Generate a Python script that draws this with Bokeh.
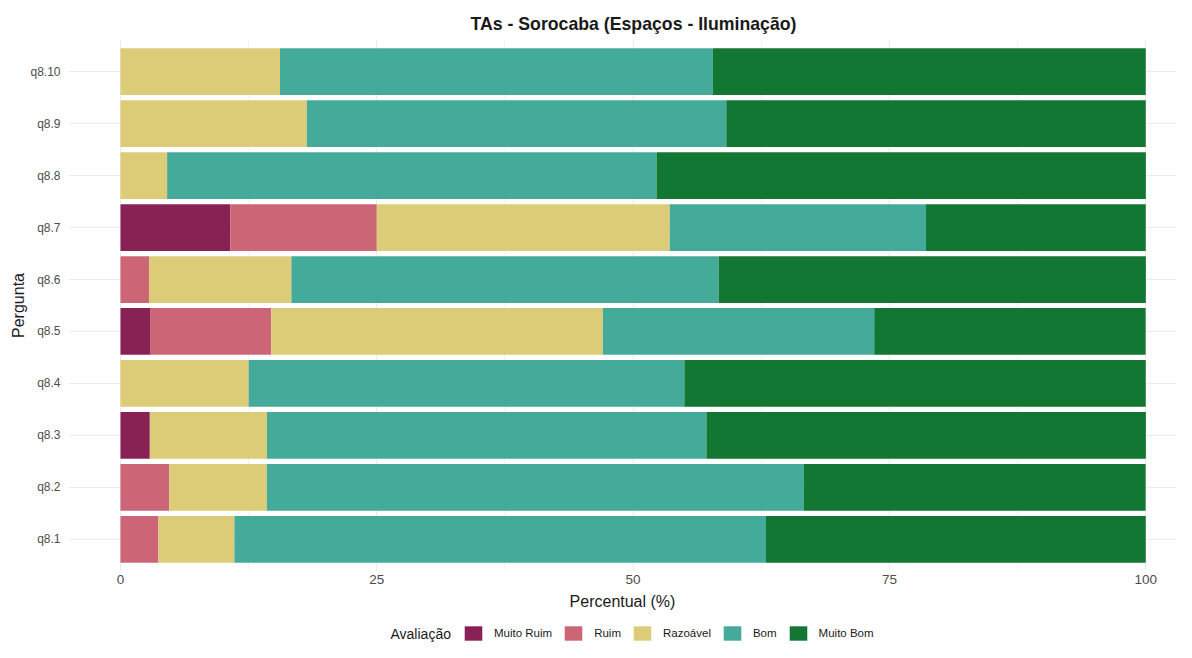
from bokeh.plotting import figure
from bokeh.layouts import column
from bokeh.models import (FactorRange, Range1d, FixedTicker, Legend, LegendItem,
                          ColumnDataSource, Label)
from bokeh.embed import file_html
from bokeh.resources import INLINE

# ---- data ----
perguntas = ["q8.1", "q8.2", "q8.3", "q8.4", "q8.5", "q8.6", "q8.7", "q8.8", "q8.9", "q8.10"]
muito_ruim = [0.0, 0.0, 2.86, 0.0, 2.94, 0.0, 10.71, 0.0, 0.0, 0.0]
ruim       = [3.70, 4.76, 0.0, 0.0, 11.76, 2.78, 14.29, 0.0, 0.0, 0.0]
razoavel   = [7.41, 9.52, 11.43, 12.5, 32.35, 13.89, 28.57, 4.55, 18.18, 15.56]
bom        = [51.85, 52.38, 42.86, 42.5, 26.47, 41.67, 25.0, 47.73, 40.91, 42.22]
muito_bom  = [37.04, 33.33, 42.86, 45.0, 26.47, 41.67, 21.43, 47.73, 40.91, 42.22]
niveis = ["Muito Ruim", "Ruim", "Razoável", "Bom", "Muito Bom"]
cores = ["#882255", "#CC6677", "#DDCC77", "#44AA99", "#117733"]
x_ticks = [0, 25, 50, 75, 100]
x_minor = [12.5, 37.5, 62.5, 87.5]
titulo = "TAs - Sorocaba (Espaços - Iluminação)"

FONT = "Liberation Sans"
FRAME_LEFT = 68


def strip(h):
    f = figure(width=1176, height=h, x_range=Range1d(0, 1176), y_range=Range1d(0, h),
               output_backend="svg", toolbar_location=None, title=None,
               min_border_left=0, min_border_right=0, min_border_top=0, min_border_bottom=0)
    f.axis.visible = False
    f.grid.visible = False
    f.outline_line_color = None
    f.border_fill_color = "white"
    f.background_fill_color = "white"
    return f


# ---- title strip ----
tf = strip(40)
tf.add_layout(Label(x=470 - FRAME_LEFT, y=17, x_units="screen", y_units="screen",
                    text=titulo, text_font=FONT, text_font_size="17.7px",
                    text_font_style="bold", text_color="#1a1a1a",
                    text_baseline="middle", text_align="left"))

# ---- main chart ----
source = ColumnDataSource(dict(
    pergunta=perguntas,
    mr=muito_ruim, r=ruim, raz=razoavel, b=bom, mb=muito_bom,
))
keys = ["mr", "r", "raz", "b", "mb"]

p = figure(
    width=1176, height=584,
    y_range=FactorRange(factors=perguntas, range_padding=0.1,
                        range_padding_units="absolute", factor_padding=0),
    x_range=Range1d(-5.07, 103.0),
    output_backend="svg", toolbar_location=None,
    min_border_left=FRAME_LEFT, min_border_top=0, min_border_bottom=54, min_border_right=0,
)

renderers = p.hbar_stack(keys, y="pergunta", height=0.9, color=cores,
                         line_color=None, source=source)

p.xaxis.ticker = FixedTicker(ticks=x_ticks, minor_ticks=x_minor)
p.xaxis.axis_label = "Percentual (%)"
p.yaxis.axis_label = "Pergunta"
for ax in (p.xaxis, p.yaxis):
    ax.axis_line_color = None
    ax.major_tick_line_color = None
    ax.minor_tick_line_color = None
    ax.major_tick_out = 0
    ax.major_tick_in = 0
    ax.minor_tick_out = 0
    ax.minor_tick_in = 0
    ax.major_label_text_font = FONT
    ax.major_label_text_color = "#4d4d4d"
    ax.axis_label_text_font = FONT
    ax.axis_label_text_font_size = "16px"
    ax.axis_label_text_font_style = "normal"
    ax.axis_label_text_color = "#1a1a1a"
p.xaxis.major_label_text_font_size = "13.5px"
p.yaxis.major_label_text_font_size = "12px"
p.xaxis.major_label_standoff = 4
p.xaxis.axis_label_standoff = 6
p.yaxis.major_label_standoff = 8
p.yaxis.axis_label_standoff = 0

p.xgrid.grid_line_color = "#ebebeb"
p.xgrid.grid_line_width = 1.1
p.xgrid.minor_grid_line_color = "#ebebeb"
p.xgrid.minor_grid_line_width = 0.6
p.ygrid.grid_line_color = "#ebebeb"
p.ygrid.grid_line_width = 1.1
p.outline_line_color = None
p.background_fill_color = "white"
p.border_fill_color = "white"

# ---- legend strip ----
lf = strip(18)
dummy = [lf.hbar(y=[-100], right=[-100], height=1, color=c, line_color=None) for c in cores]
items = [LegendItem(label=n, renderers=[r]) for n, r in zip(niveis, dummy)]
legend = Legend(
    items=items, orientation="horizontal", location=(462 - FRAME_LEFT, 0),
    label_text_font=FONT, label_text_font_size="11.5px", label_text_color="#1a1a1a",
    glyph_width=22, glyph_height=18, label_standoff=10, spacing=10,
    padding=0, margin=0, border_line_color=None, background_fill_alpha=0,
)
lf.add_layout(legend, "center")
lf.add_layout(Label(x=390 - FRAME_LEFT, y=9, x_units="screen", y_units="screen",
                    text="Avaliação",
                    text_font=FONT, text_font_size="14px", text_color="#1a1a1a",
                    text_baseline="middle", text_align="left"))

layout = column(tf, p, lf, spacing=0)
open("out.html", "w").write(file_html(layout, INLINE))
